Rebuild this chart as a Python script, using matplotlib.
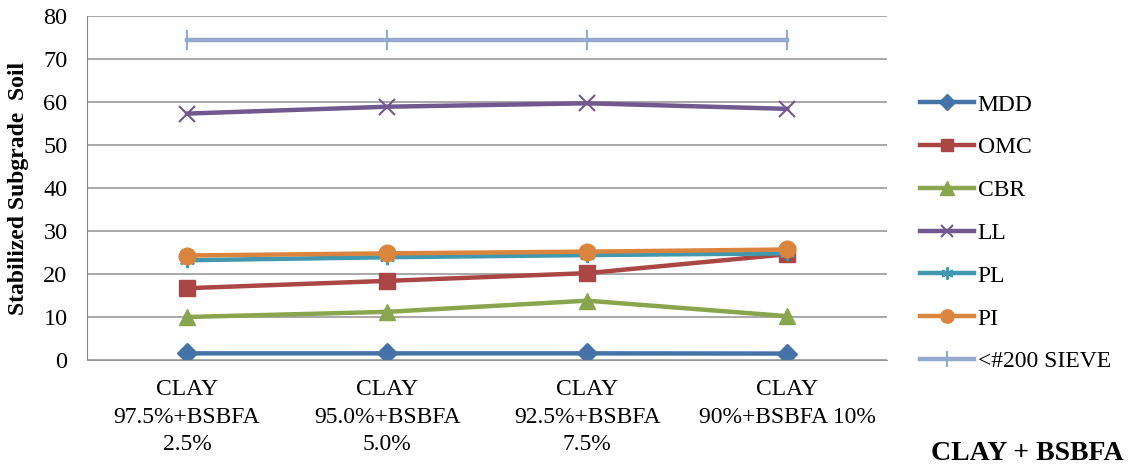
import matplotlib.pyplot as plt

plt.rcParams['font.family'] = ['Liberation Serif', 'DejaVu Serif']

mixes = ['CLAY\n97.5%+BSBFA\n2.5%', 'CLAY\n95.0%+BSBFA\n5.0%',
         'CLAY\n92.5%+BSBFA\n7.5%', 'CLAY\n90%+BSBFA 10%']
mdd = [1.55, 1.55, 1.55, 1.5]
omc = [16.7, 18.4, 20.2, 24.6]
cbr = [10.0, 11.2, 13.8, 10.2]
ll = [57.3, 58.9, 59.7, 58.4]
pl = [23.2, 23.9, 24.4, 24.8]
pi = [24.3, 24.8, 25.2, 25.7]
sieve = [74.5, 74.5, 74.5, 74.5]

series = [
    ('MDD', mdd, '#4572A7', 'D', 10),
    ('OMC', omc, '#AA4643', 's', 11),
    ('CBR', cbr, '#89A54E', '^', 12),
    ('LL', ll, '#71588F', 'x', 11),
    ('PL', pl, '#4198AF', (6, 2, 0), 11),
    ('PI', pi, '#DB843D', 'o', 12),
    ('<#200 SIEVE', sieve, '#93A9CF', '|', 14),
]

fig = plt.figure(figsize=(11.36, 4.70), dpi=100)
ax = fig.add_axes([0.0766, 0.234, 0.7044, 0.732])

x = range(len(mixes))
for name, vals, col, mk, ms in series:
    thin = mk in ('x', '|') or isinstance(mk, tuple)
    ax.plot(x, vals, color=col, lw=3.2, marker=mk, markersize=ms,
            markeredgewidth=1.5 if thin else 1,
            markeredgecolor=col, label=name)

ax.set_xlim(-0.5, 3.5)
ax.set_ylim(0, 80)
ax.set_yticks(range(0, 81, 10))
ax.set_xticks(list(x))
ax.set_xticklabels(mixes, fontsize=17, linespacing=1.4)
ax.tick_params(axis='y', labelsize=17.5, length=0, pad=14)
ax.tick_params(axis='x', length=0, pad=14)
ax.grid(axis='y', color='#999999', lw=1.2)
ax.set_axisbelow(True)
for s in ['top', 'right']:
    ax.spines[s].set_visible(False)
ax.spines['bottom'].set_color('#999999')
ax.spines['left'].set_color('#888888')
ax.set_ylabel('Stabilized Subgrade  Soil', fontsize=17, fontweight='bold')
ax.yaxis.set_label_coords(-0.072, 0.5)

fig.text(0.904, 0.022, 'CLAY + BSBFA', fontsize=20, fontweight='bold', ha='center')

leg = fig.legend(loc='upper left', bbox_to_anchor=(0.791, 0.845), frameon=False,
                 fontsize=17, labelspacing=0.9, handlelength=2.3,
                 handletextpad=0.15, markerscale=0.8)

fig.savefig('out.png', dpi=100)
